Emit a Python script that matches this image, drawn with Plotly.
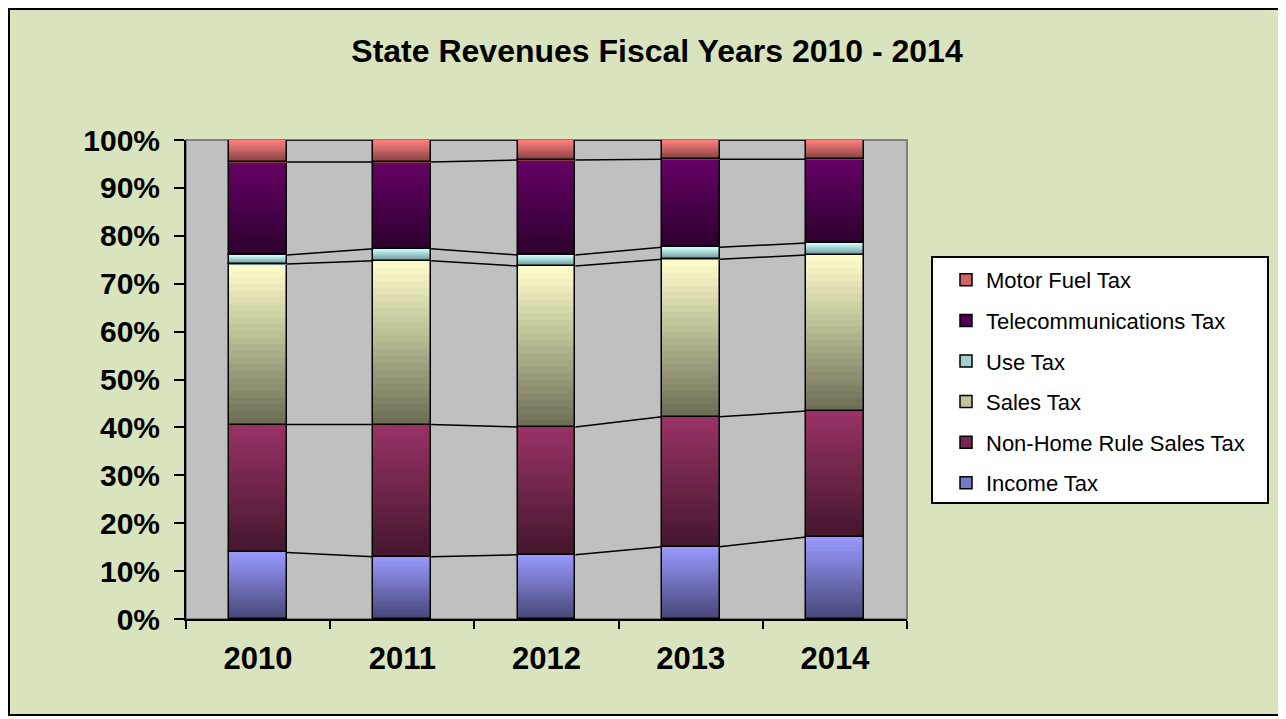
import numpy as np
import plotly.graph_objects as go

# ---------------- data ----------------
years = ["2010", "2011", "2012", "2013", "2014"]
series_names = ["Income Tax", "Non-Home Rule Sales Tax", "Sales Tax",
                "Use Tax", "Telecommunications Tax", "Motor Fuel Tax"]
income_tax = [13.9, 13.0, 13.4, 15.1, 17.1]
non_home_rule_sales_tax = [26.7, 27.6, 26.7, 27.1, 26.3]
sales_tax = [33.5, 34.2, 33.6, 32.9, 32.6]
use_tax = [1.9, 2.5, 2.3, 2.5, 2.5]
telecommunications_tax = [19.4, 18.1, 19.8, 18.4, 17.5]
motor_fuel_tax = [4.6, 4.6, 4.2, 4.0, 4.0]
y_tick_values = [0, 0.1, 0.2, 0.3, 0.4, 0.5, 0.6, 0.7, 0.8, 0.9, 1.0]

# ---------------- styles ----------------
top_colors = [(153, 153, 255), (153, 51, 102), (255, 255, 204),
              (204, 255, 255), (102, 0, 102), (255, 128, 128)]
bottom_colors = [(70, 70, 118), (68, 22, 44), (108, 108, 84),
                 (100, 140, 140), (44, 0, 44), (128, 62, 62)]
FONT = "Liberation Sans, Arial, sans-serif"
BAR_W = 0.4
N_SLICES = 24

series_values = np.array([income_tax, non_home_rule_sales_tax, sales_tax,
                          use_tax, telecommunications_tax, motor_fuel_tax], dtype=float)
shares = series_values / series_values.sum(axis=0)
cum = np.cumsum(shares, axis=0)
bases = cum - shares
xpos = np.arange(len(years))


def mix(c1, c2, t):
    return "rgb(%d,%d,%d)" % tuple(round(a + (b - a) * t) for a, b in zip(c1, c2))


fig = go.Figure()
for s, name in enumerate(series_names):
    xs, bs, hs, cs = [], [], [], []
    for k in range(N_SLICES):
        col = mix(bottom_colors[s], top_colors[s], (k + 0.5) / N_SLICES)
        for i in range(len(years)):
            xs.append(xpos[i])
            bs.append(bases[s, i] + shares[s, i] * k / N_SLICES)
            hs.append(shares[s, i] / N_SLICES * 1.02)
            cs.append(col)
    fig.add_bar(x=xs, y=hs, base=bs, width=BAR_W,
                marker=dict(color=cs, line=dict(width=0)),
                showlegend=False, hoverinfo="skip")
    fig.add_bar(x=xpos, y=shares[s], base=bases[s], width=BAR_W, name=name,
                marker=dict(color="rgba(0,0,0,0)", line=dict(color="black", width=1.5)),
                showlegend=False)

# series lines
lx, ly = [], []
for s in range(len(series_names)):
    for i in range(len(years) - 1):
        lx += [xpos[i] + BAR_W / 2, xpos[i + 1] - BAR_W / 2, None]
        ly += [cum[s, i], cum[s, i + 1], None]
fig.add_scatter(x=lx, y=ly, mode="lines", line=dict(color="black", width=1.5),
                showlegend=False, hoverinfo="skip")

# legend entries (top of stack listed first)
for s in reversed(range(len(series_names))):
    name = series_names[s]
    fig.add_bar(x=[None], y=[None], name=name, legendgroup=name,
                marker=dict(color=mix(bottom_colors[s], top_colors[s], 0.6),
                            line=dict(color="black", width=1.5)))

# page coordinates (the page has an 8px body margin)
OFF = 8
L, R, T, B = 186, 907, 140, 619
W, H = 1286 - OFF, 719 - OFF
pw, ph = R - L, B - T


def px_x(v):
    return (v - L) / pw


def px_y(v):
    return (B - v) / ph


fig.update_layout(
    width=W, height=H,
    margin=dict(l=L - OFF, r=W - (R - OFF), t=T - OFF, b=H - (B - OFF)),
    paper_bgcolor="#D9E4BF",
    plot_bgcolor="#C0C0C0",
    barmode="overlay",
    bargap=0,
    title=dict(text="State Revenues Fiscal Years 2010 - 2014",
               font=dict(family=FONT, size=32, color="black", weight="bold"),
               x=(657 - OFF) / W, xanchor="center", y=1 - (51 - OFF) / H, yanchor="middle"),
    font=dict(family=FONT, color="black"),
    xaxis=dict(range=[-0.5, len(years) - 0.5], tickvals=xpos, ticktext=years,
               ticks="", showgrid=False, zeroline=False,
               showline=True, linecolor="black", linewidth=2,
               tickfont=dict(family=FONT, size=31, weight="bold", color="black"),
               ticklabelstandoff=11,
               minor=dict(tickvals=[i - 0.5 for i in range(len(years) + 1)],
                          ticks="outside", ticklen=8, tickwidth=1.5, tickcolor="black",
                          showgrid=False)),
    yaxis=dict(range=[0, 1], tickvals=y_tick_values, tickformat=".0%",
               ticks="outside", ticklen=10, tickwidth=2, tickcolor="black",
               showgrid=False, zeroline=False,
               showline=True, linecolor="black", linewidth=2,
               tickfont=dict(family=FONT, size=30, weight="bold", color="black"),
               ticklabelstandoff=8),
    legend=dict(x=px_x(946), xanchor="left", y=px_y(259), yanchor="top",
                bgcolor="rgba(0,0,0,0)", borderwidth=0,
                font=dict(family=FONT, size=22, color="black"),
                traceorder="grouped", tracegroupgap=9),
    shapes=[
        # white page strips right / bottom of the chart border
        dict(type="rect", xref="paper", yref="paper",
             x0=px_x(1281), x1=px_x(1300), y0=px_y(730), y1=px_y(0),
             line=dict(width=0), fillcolor="white", layer="below"),
        dict(type="rect", xref="paper", yref="paper",
             x0=px_x(0), x1=px_x(1300), y0=px_y(730), y1=px_y(716),
             line=dict(width=0), fillcolor="white", layer="below"),
        # outer border
        dict(type="rect", xref="paper", yref="paper",
             x0=px_x(OFF + 1), x1=px_x(1280), y0=px_y(715), y1=px_y(OFF + 1),
             line=dict(color="black", width=2), fillcolor="rgba(0,0,0,0)", layer="below"),
        # plot area border
        dict(type="rect", xref="paper", yref="paper", x0=0, x1=1, y0=0, y1=1,
             line=dict(color="#808080", width=2), fillcolor="rgba(0,0,0,0)", layer="below"),
        # legend box
        dict(type="rect", xref="paper", yref="paper",
             x0=px_x(932), x1=px_x(1268), y0=px_y(503), y1=px_y(257),
             line=dict(color="black", width=2), fillcolor="white", layer="below"),
    ],
)

fig.write_html("out.html")
